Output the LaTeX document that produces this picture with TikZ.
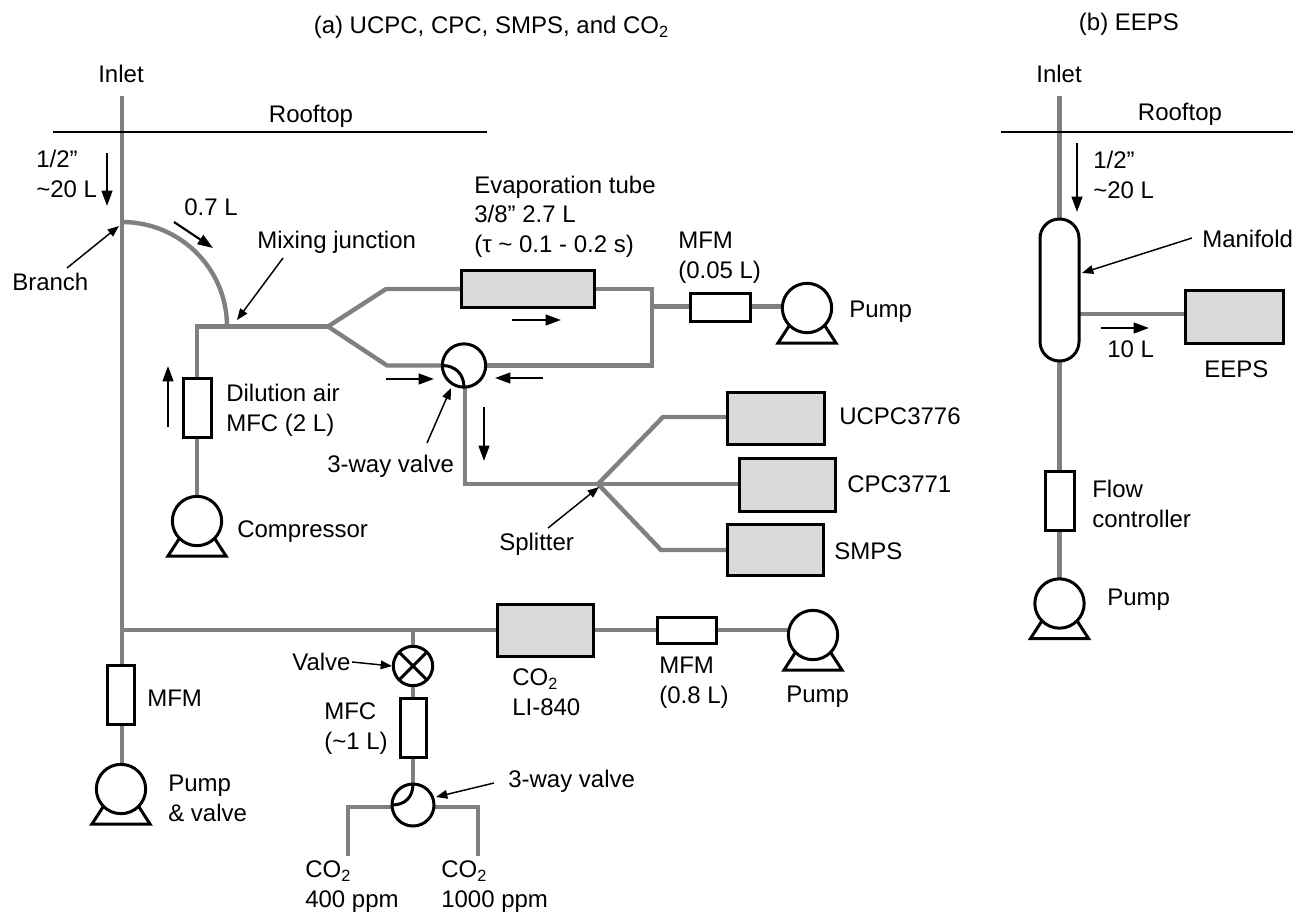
\documentclass[tikz,border=0pt]{standalone}
\usepackage{fontspec}
\setmainfont{Liberation Sans}
\usetikzlibrary{arrows.meta}
\definecolor{pipegray}{HTML}{808080}
\definecolor{instgray}{HTML}{D9D9D9}
\pgfdeclarelayer{pipes}
\pgfsetlayers{pipes,main}
\newcommand{\COtwo}{CO\raisebox{-3.2pt}{\fontsize{12.2}{12.2}\selectfont 2}}
% corner-specified box node
\newcommand{\partbox}[6]{%
  \pgfmathsetmacro{\bw}{(#5-#3)*0.75}%
  \pgfmathsetmacro{\bh}{(#6-#4)*0.75}%
  \node[#1,minimum width=\bw pt,minimum height=\bh pt] (#2) at ({(#3+#5)/2},{(#4+#6)/2}) {};}
% pump: circle plus stand
\newcommand{\pumpunit}[3]{%
  \draw[part,line join=miter] ([shift={(-18,18)}]#2,#3) -- ([shift={(-29,35)}]#2,#3) -- ([shift={(29,35)}]#2,#3) -- ([shift={(18,18)}]#2,#3);
  \node[ring,minimum size=37pt] (#1) at (#2,#3) {};}
% pipe on the layer under the parts
\newcommand{\pipeline}[1]{\begin{pgfonlayer}{pipes}\draw[pipe] #1;\end{pgfonlayer}}
% flow arrow between named coordinates
\newcommand{\flowarrow}[5]{%
  \coordinate (#1s) at (#2,#3);
  \coordinate (#1e) at (#4,#5);
  \draw[flow] (#1s) -- (#1e);}
% thin pointer arrow between named coordinates
\newcommand{\pointarrow}[5]{%
  \coordinate (#1s) at (#2,#3);
  \coordinate (#1e) at (#4,#5);
  \draw[pointer] (#1s) -- (#1e);}
\tikzset{
  pipe/.style={draw=pipegray,line width=3.3pt,line join=miter},
  part/.style={draw=black,line width=2.25pt},
  flow/.style={draw=black,line width=1.6pt,-{Triangle[length=11.5pt,width=8pt]}},
  pointer/.style={draw=black,line width=1.1pt,-{Triangle[length=8.5pt,width=6.5pt]}},
  inst/.style={part,fill=instgray,rectangle,inner sep=0pt,outer sep=0pt},
  flowbox/.style={part,fill=white,rectangle,inner sep=0pt,outer sep=0pt},
  ring/.style={part,fill=white,circle,inner sep=0pt,outer sep=0pt},
  lbl/.style={anchor=base west,inner sep=0pt,align=left,font=\fontsize{18}{22.1}\selectfont},
  clbl/.style={anchor=base,inner sep=0pt,align=center,font=\fontsize{18}{22.1}\selectfont},
}
\begin{document}
\begin{tikzpicture}[x=0.75pt,y=-0.75pt]
\useasboundingbox (0,0) rectangle (1293,914);
% titles
\node[clbl] (titlea) at (491,33) {(a) UCPC, CPC, SMPS, and \COtwo};
\node[clbl] (titleb) at (1129,30) {(b) EEPS};
\node[clbl] (inleta) at (121,82) {Inlet};
\node[clbl] (inletb) at (1059,82) {Inlet};
\node[clbl] (roofa) at (311,122) {Rooftop};
\node[clbl] (roofb) at (1180,120) {Rooftop};
% rooftop lines
\coordinate (rooftopAl) at (53,132); \coordinate (rooftopAr) at (487,132);
\coordinate (rooftopBl) at (1001,132); \coordinate (rooftopBr) at (1293,132);
\draw[line width=1.1pt] (rooftopAl) -- (rooftopAr);
\draw[line width=1.1pt] (rooftopBl) -- (rooftopBr);

% ---- main line (a)
\coordinate (intop) at (122,96);
\coordinate (branch) at (122,222);
\coordinate (tee) at (122,630);
\partbox{flowbox}{mfmmain}{107}{665}{134}{724}
\pumpunit{pumpmain}{121}{789}
\pipeline{(intop) -- (intop |- pumpmain.center)}

% dilution
\coordinate (mix) at (227,326.5);
\coordinate (corner) at (197,326.5);
\coordinate (fork) at (328,326.5);
\partbox{flowbox}{mfcdil}{183}{378}{211}{437}
\pumpunit{pumpcomp}{197}{521}
\pipeline{(branch) .. controls +(58,0) and +(0,-58) .. (mix)}
\pipeline{(pumpcomp.center) -- (corner) -- (fork)}

% evaporation branch
\coordinate (upbend) at (386,289);
\coordinate (lowbend) at (387,365.5);
\coordinate (rtop) at (652,289);
\coordinate (rbot) at (652,365.5);
\coordinate (rmid) at (652,306.5);
\partbox{inst}{evap}{461}{270}{594}{307}
\node[ring,minimum size=32.5pt] (valvea) at (464,365.5) {};
\partbox{flowbox}{mfmevap}{690}{293}{750}{321}
\pumpunit{pumpevap}{807}{308}
\pipeline{(fork) -- (upbend) -- (evap.west |- upbend)}
\pipeline{(fork) -- (lowbend) -- (valvea.center)}
\pipeline{(evap.east |- rtop) -- (rtop) -- (rbot) -- (valvea.center)}
\pipeline{(rmid) -- (rmid -| pumpevap.center)}
\draw[part] (valvea.west) .. controls +(13,0) and +(0,-13) .. (valvea.south);

% splitter
\coordinate (vbot) at (465,484);
\coordinate (split) at (598,484);
\coordinate (splitup) at (663,417);
\coordinate (splitdn) at (661,550);
\partbox{inst}{ucpc}{727}{392}{824}{444}
\partbox{inst}{cpc}{739}{458}{835}{511}
\partbox{inst}{smps}{727}{524}{823}{575}
\pipeline{(vbot |- valvea.center) -- (vbot) -- (split)}
\pipeline{(split) -- (splitup) -- (splitup -| ucpc.west)}
\pipeline{(split) -- (split -| cpc.west)}
\pipeline{(split) -- (splitdn) -- (splitdn -| smps.west)}

% CO2 line
\coordinate (valvetee) at (413,630);
\partbox{inst}{licor}{497}{604}{593}{656}
\partbox{flowbox}{mfmco}{657}{617}{716}{643}
\pumpunit{pumpco}{813}{635}
\pipeline{(tee) -- (tee -| pumpco.center)}
\node[ring,minimum size=29.5pt] (xvalve) at (413,666) {};
\draw[part] (xvalve.45) -- (xvalve.225);
\draw[part] (xvalve.135) -- (xvalve.315);
\partbox{flowbox}{mfcco}{400}{698}{426}{757}
\node[ring,minimum size=31.5pt] (valveb) at (413,805) {};
\coordinate (lbend) at (348,807); \coordinate (lend) at (348,856);
\coordinate (rbend) at (478,807); \coordinate (rend) at (478,856);
\pipeline{(valvetee) -- (valveb.center)}
\pipeline{(lend) -- (lbend) -- (rbend) -- (rend)}
\draw[part] (valveb.north) .. controls +(0,13) and +(13,0) .. (valveb.west);

% ---- (b) EEPS
\coordinate (intopb) at (1059.5,96);
\partbox{flowbox,rounded corners=14.5pt}{manifold}{1040}{219}{1079}{361}
\partbox{inst}{eeps}{1185}{290}{1283}{343}
\partbox{flowbox}{flowctl}{1045}{471}{1074}{530}
\pumpunit{pumpb}{1059.5}{603.5}
\coordinate (manout) at (1060,314);
\pipeline{(intopb) -- (pumpb.center)}
\pipeline{(manout) -- (manout -| eeps.west)}

% ---- flow arrows
\flowarrow{fa}{107}{153}{107}{206}
\flowarrow{fb}{174}{222}{213}{248}
\flowarrow{fc}{168}{427}{168}{366}
\flowarrow{fd}{512}{320}{561}{320}
\flowarrow{fe}{386}{379}{434}{379}
\flowarrow{ff}{543}{378}{495}{378}
\flowarrow{fg}{484}{407}{484}{461}
\flowarrow{fh}{1077}{143}{1077}{212}
\flowarrow{fi}{1101}{328}{1149}{328}
% pointer arrows
\pointarrow{pa}{67}{268}{119}{226}
\pointarrow{pb}{283}{258}{237}{320}
\pointarrow{pc}{427}{443}{451}{388}
\pointarrow{pd}{548}{528}{599}{487}
\pointarrow{pe}{352}{662}{392}{666}
\pointarrow{pf}{494}{783}{436}{797}
\pointarrow{pg}{1192}{238}{1082}{273}

% ---- labels
\node[lbl] (t1) at (36,197) {1/2”\\\textasciitilde 20 L};
\node[lbl] (t2) at (12,290) {Branch};
\node[lbl] (t3) at (184,215) {0.7 L};
\node[lbl] (t4) at (257,248) {Mixing junction};
\node[lbl] (t5) at (474,252) {Evaporation tube\\3/8” 2.7 L\\(τ \textasciitilde{} 0.1 - 0.2 s)};
\node[lbl] (t6) at (678,278) {MFM\\(0.05 L)};
\node[lbl] (t7) at (849,317) {Pump};
\node[lbl] (t8) at (226,431) {Dilution air\\MFC (2 L)};
\node[lbl] (t9) at (327,472) {3-way valve};
\node[lbl] (t10) at (237,537) {Compressor};
\node[lbl] (t11) at (839,424) {UCPC3776};
\node[lbl] (t12) at (847,492) {CPC3771};
\node[lbl] (t13) at (834,559) {SMPS};
\node[lbl] (t14) at (499,550) {Splitter};
\node[lbl] (t15) at (147,706) {MFM};
\node[lbl] (t16) at (168,821) {Pump\\\& valve};
\node[lbl] (t17) at (292,670) {Valve};
\node[lbl] (t18) at (324,749) {MFC\\(\textasciitilde 1 L)};
\node[lbl] (t19) at (512,715) {\COtwo\\LI-840};
\node[lbl] (t20) at (659,703) {MFM\\(0.8 L)};
\node[lbl] (t21) at (786,702) {Pump};
\node[lbl] (t22) at (508,787) {3-way valve};
\node[lbl] (t23) at (305,907) {\COtwo\\400 ppm};
\node[lbl] (t24) at (441,907) {\COtwo\\1000 ppm};
\node[lbl] (t25) at (1093,198) {1/2”\\\textasciitilde 20 L};
\node[lbl] (t26) at (1202,247) {Manifold};
\node[lbl] (t27) at (1107,357) {10 L};
\node[lbl] (t28) at (1204,377) {EEPS};
\node[lbl] (t29) at (1092,527) {Flow\\controller};
\node[lbl] (t30) at (1107,605) {Pump};
\end{tikzpicture}
\end{document}
